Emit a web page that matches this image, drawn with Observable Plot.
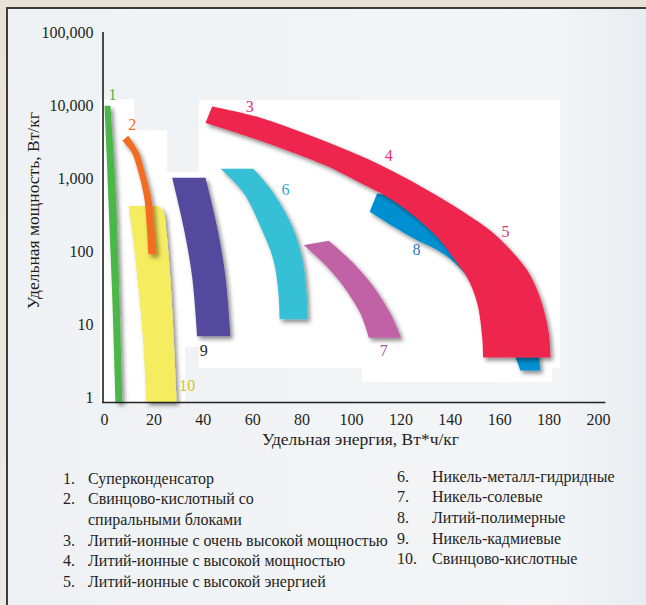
<!DOCTYPE html>
<html><head><meta charset="utf-8">
<script src="https://cdn.jsdelivr.net/npm/d3@7"></script>
<script src="https://cdn.jsdelivr.net/npm/@observablehq/plot@0.6"></script>
<style>
html,body{margin:0;padding:0;}
body{width:646px;height:605px;overflow:hidden;position:relative;background:linear-gradient(#e8e2d6,#eeeae2);font-family:"Liberation Serif","Times New Roman",serif;}
#frame{position:absolute;left:6px;top:7px;right:0;bottom:0;border-left:2px solid #3c3c3c;border-top:2px solid #3c3c3c;background:linear-gradient(90deg,#eff2f4,#f3f5f7 85%,#e8edf1);}
#chart{position:absolute;left:0;top:0;}
.col{position:absolute;font-size:16px;color:#1e1e1e;line-height:20.7px;}
.row{display:flex;white-space:pre-line;}
.num{flex:none;}
</style></head><body>
<div id="frame"></div><div id="chart"></div><div id="legend"></div>
<script>
// ---- data ----
const xTicks = [0, 20, 40, 60, 80, 100, 120, 140, 160, 180, 200];
const yTicks = [1, 10, 100, 1000, 10000, 100000];

// band outlines: energy (Wh/kg) and power (W/kg), traced round each ribbon
const band1E = [0, 0.8, 1.6, 3.2, 4.5, 7.3, 6.1, 4.7, 3.6, 2.4];
const band1P = [9900, 2500, 500, 21, 0.86, 0.86, 21, 500, 2500, 9900];
const band2E = [7.2, 10.9, 13.2, 15.0, 16.3, 17.2, 17.8, 21.1, 20.2, 19.2, 17.7, 15.8, 13.8, 9.6];
const band2P = [3280, 2320, 1400, 820, 480, 200, 92, 92, 200, 480, 820, 1400, 2320, 3850];
const band10E = [9.7, 11.3, 13.4, 15.4, 17.0, 29.2, 27.9, 26.7, 25.1, 23.9, 21.9];
const band10P = [420, 180, 40, 7.6, 0.86, 0.86, 7.6, 40, 180, 350, 420];
const band9E = [27.4, 32.0, 35.5, 37.5, 51.0, 49.0, 45.6, 40.9];
const band9P = [1020, 216, 44.5, 6.9, 6.9, 44.5, 216, 1020];
const band6E = [47.0, 56.3, 63.2, 68.4, 70.4, 70.9, 82.2, 81.8, 80.2, 76.1, 68.4, 60.3];
const band6P = [1355, 634, 216, 76, 27, 11.8, 11.8, 27, 76, 216, 634, 1355];
const band7E = [80.7, 88.8, 96.9, 103.6, 107.0, 120.1, 115.8, 109.0, 100.9, 90.8];
const band7P = [122, 68.6, 32.7, 14.1, 6.6, 6.6, 14.1, 32.7, 68.6, 140];
const band8E = [110.4, 123.9, 136.0, 148.2, 160.3, 168.4, 174.5, 176.5, 168.4, 166.4, 162.3, 156.3, 148.2, 141.4, 134.7, 125.2, 117.1, 107.4];
const band8P = [628, 462, 253, 122, 40.5, 15.7, 6.1, 2.35, 2.35, 3.54, 7.1, 15.7, 40.5, 72, 105, 151, 218, 351];
const band345E = [43.6, 61.8, 88.8, 103.6, 117.1, 130.6, 144.1, 157.6, 164.4, 171.1, 175.2, 177.9, 179.9, 180.6,
                  153.3, 152.9, 150.9, 147.0, 142.8, 134.7, 123.9, 114.5, 103.6, 88.8, 61.8, 40.9];
const band345P = [9720, 7000, 3300, 2044, 1233, 697, 370, 177, 105, 55.6, 29.5, 15.7, 7.57, 3.54,
                  3.54, 6.67, 19.6, 43.1, 69.3, 158, 337, 559, 870, 1538, 3388, 5750];

const bandIds = ["10", "2", "1", "9", "6", "7", "8", "3-5"];
const bandColors = ["#f6ec60", "#f26c22", "#4cb748", "#544a9e", "#34c0d6", "#c162a6", "#0090d2", "#ee284d"];
const bandE = [band10E, band2E, band1E, band9E, band6E, band7E, band8E, band345E];
const bandP = [band10P, band2P, band1P, band9P, band6P, band7P, band8P, band345P];
// indices of the sharp corners (ends of each ribbon)
const bandCorners = [[0, 4, 5, 10], [0, 6, 7, 13], [0, 4, 5, 9], [0, 3, 4, 7], [0, 5, 6, 11], [0, 4, 5, 9], [0, 7, 8, 17], [0, 13, 14, 25]];

// number labels on the chart
const labelText = ["1", "2", "3", "4", "5", "6", "7", "8", "9", "10"];
const labelE = [3.2, 11.2, 58.8, 115.1, 162.3, 73.3, 113.1, 126.3, 40.2, 33.5];
const labelP = [14070, 5450, 9720, 2044, 186, 697, 4.42, 105, 4.42, 1.46];
const labelColor = ["#4cb848", "#f26a22", "#e6307c", "#e6307c", "#e6307c", "#2fa8e0", "#9c5aa6", "#1f78c0", "#1e1e1e", "#d6c322"];

// white backing panels behind the ribbons
const panelE1 = [-1.6, -1.6, -1.6, 25.5, 38.5, 104.5];
const panelE2 = [12.1, 25.5, 32.8, 38.5, 184.6, 181.4];
const panelP1 = [0.854, 0.854, 0.854, 4.86, 2.50, 1.61];
const panelP2 = [12020, 4508, 595, 1200, 11640, 11640];

const legendNums = ["1.", "2.", "3.", "4.", "5.", "6.", "7.", "8.", "9.", "10."];
const legendLabels = ["Суперконденсатор", "Свинцово-кислотный со\nспиральными блоками",
  "Литий-ионные с очень высокой мощностью", "Литий-ионные с высокой мощностью",
  "Литий-ионные с высокой энергией", "Никель-металл-гидридные", "Никель-солевые",
  "Литий-полимерные", "Никель-кадмиевые", "Свинцово-кислотные"];

const xTitle = "Удельная энергия, Вт*ч/кг";
const yTitle = "Удельная мощность, Вт/кг";

// ---- build ----
const outline = bandIds.flatMap((id, k) => bandE[k].flatMap((e, i) => {
  const pt = {id, color: bandColors[k], e, p: bandP[k][i]};
  return bandCorners[k].includes(i) ? [pt, pt] : [pt];
}));
const panels = panelE1.map((_, i) => ({x1: panelE1[i], x2: panelE2[i], y1: panelP1[i], y2: panelP2[i]}));
const labels = labelText.map((t, i) => ({t, e: labelE[i], p: labelP[i], c: labelColor[i]}));

const chart = Plot.plot({
  width: 646, height: 450,
  marginLeft: 104, marginRight: 48, marginTop: 32, marginBottom: 48,
  style: {background: "transparent", fontFamily: '"Liberation Serif","Times New Roman",serif', fontSize: "16px", color: "#1e1e1e", overflow: "visible"},
  x: {domain: [0, 200], ticks: xTicks, tickSize: 0, tickPadding: 11, label: null},
  y: {type: "log", domain: [0.854, 100000], ticks: yTicks, tickSize: 0, tickPadding: 11, label: null, tickFormat: d3.format(",")},
  color: {type: "identity"},
  marks: [
    Plot.rect(panels, {x1: "x1", x2: "x2", y1: "y1", y2: "y2", fill: "white"}),
    Plot.line(outline, {x: "e", y: "p", z: "id", fill: "color", stroke: "none", curve: "catmull-rom-closed"}),
    Plot.ruleX([-0.6], {y1: 0.854, y2: 100000, stroke: "#222", strokeWidth: 1.6}),
    Plot.ruleY([0.854], {x1: -0.8, x2: 203, stroke: "#222", strokeWidth: 1.6}),
    Plot.text(labels, {x: "e", y: "p", text: "t", fill: "c", fontSize: 16}),
    Plot.text([xTitle], {frameAnchor: "bottom", lineAnchor: "middle", dy: 37, dx: 9, fontSize: 17.5, fill: "#1e1e1e"}),
    Plot.text([yTitle], {frameAnchor: "left", textAnchor: "middle", lineAnchor: "middle", rotate: -90, dx: -71, dy: -7, fontSize: 17.5, fill: "#1e1e1e"})
  ]
});
document.getElementById("chart").appendChild(chart);

// drop shadows on ribbons
const svg = chart.tagName.toLowerCase() === "svg" ? chart : chart.querySelector("svg");
const ns = "http://www.w3.org/2000/svg";
const defs = document.createElementNS(ns, "defs");
const f = document.createElementNS(ns, "filter");
f.setAttribute("id", "ds"); f.setAttribute("filterUnits", "userSpaceOnUse");
f.setAttribute("x", "-20"); f.setAttribute("y", "-20"); f.setAttribute("width", "700"); f.setAttribute("height", "520");
const s = document.createElementNS(ns, "feDropShadow");
s.setAttribute("dx", "2.5"); s.setAttribute("dy", "3"); s.setAttribute("stdDeviation", "2");
s.setAttribute("flood-color", "#000"); s.setAttribute("flood-opacity", "0.45");
f.appendChild(s); defs.appendChild(f); svg.insertBefore(defs, svg.firstChild);
svg.querySelectorAll('g[aria-label="line"] path').forEach(p => p.setAttribute("filter", "url(#ds)"));

// legend
const legend = document.getElementById("legend");
function column(idx, left, top, numW) {
  const col = document.createElement("div");
  col.className = "col"; col.style.left = left + "px"; col.style.top = top + "px";
  idx.forEach(i => {
    const r = document.createElement("div"); r.className = "row";
    const n = document.createElement("span"); n.className = "num"; n.style.width = numW + "px"; n.textContent = legendNums[i];
    const t = document.createElement("span"); t.textContent = legendLabels[i];
    r.appendChild(n); r.appendChild(t); col.appendChild(r);
  });
  legend.appendChild(col);
}
column([0, 1, 2, 3, 4], 63, 468.5, 25);
column([5, 6, 7, 8, 9], 397, 466.5, 35);
</script></body></html>
